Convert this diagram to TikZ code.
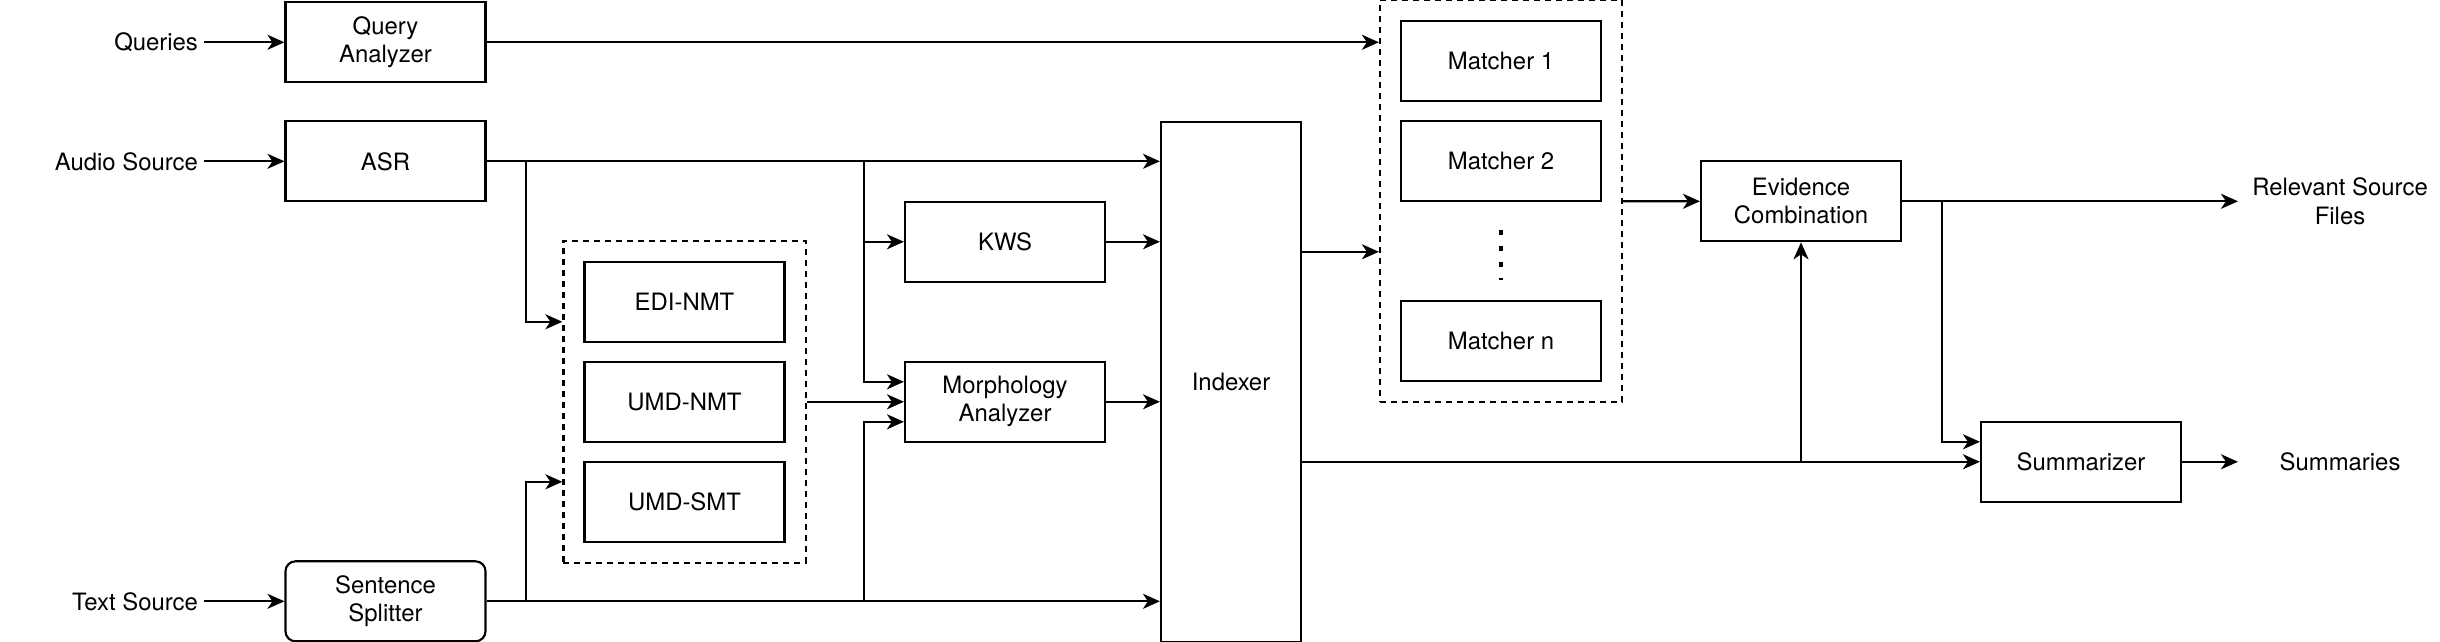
\documentclass[tikz,border=0pt]{standalone}
\usepackage{fontspec}
\setmainfont{TeX Gyre Heros}
\usetikzlibrary{arrows.meta,fit}

\begin{document}
\begin{tikzpicture}[node distance=1cm, line width=0.6pt,
    >={Stealth[length=0.17cm,width=0.15cm,inset=0.05cm]},
    every node/.style={font=\fontsize{6.8pt}{8pt}\selectfont},
    block/.style={draw, rectangle, minimum width=2cm, minimum height=0.8cm, align=center, inner sep=0pt},
    io/.style={inner sep=0.05cm, align=center},
    outlabel/.style={minimum width=2.02cm, inner sep=0pt, align=center},
    group/.style={draw, dash pattern=on 0.06cm off 0.05cm, inner sep=0.2cm}]
    \useasboundingbox (0,0.008) rectangle (24.4,-6.412);

    % Inputs
    \node[io, anchor=east] (queries) at (2.04,-0.415) {Queries};
    \node[io, anchor=east] (audio) at (2.04,-1.605) {Audio Source};
    \node[io, anchor=east] (text) at (2.04,-6.005) {Text Source};

    % Front end
    \node[block] (qa) at (3.855,-0.415) {Query\\Analyzer};
    \node[block] (asr) at (3.855,-1.605) {ASR};
    \node[block, rounded corners=0.1cm] (splitter) at (3.855,-6.005) {Sentence\\Splitter};

    % Translation systems
    \node[block] (edi) at (6.845,-3.01) {EDI-NMT};
    \node[block, below of=edi] (umdnmt) {UMD-NMT};
    \node[block, below of=umdnmt] (umdsmt) {UMD-SMT};
    \node[group, fit=(edi)(umdsmt)] (mt) {};

    % KWS and morphology
    \node[block] (kws) at (10.05,-2.41) {KWS};
    \node[block] (morph) at (10.05,-4.01) {Morphology\\Analyzer};
    \coordinate (tap) at ([xshift=-0.4cm]kws.west);

    % Indexer
    \node[draw, minimum width=1.4cm, minimum height=5.2cm, inner sep=0pt] (indexer) at (12.31,-3.81) {Indexer};

    % Matchers
    \node[block] (m1) at (15.01,-0.605) {Matcher 1};
    \node[block, below of=m1] (m2) {Matcher 2};
    \node[block, below of=m2, yshift=-0.8cm] (mn) {Matcher n};
    \node[group, fit=(m1)(mn)] (match) {};
    \draw[line width=0.045cm, dash pattern=on 0.045cm off 0.115cm] ([yshift=-0.28cm]m2.south) -- ([yshift=0.2cm]mn.north);

    % Combination and summaries
    \node[block] (evid) at (18.01,-2.005) {Evidence\\Combination};
    \node[block] (summ) at (20.81,-4.61) {Summarizer};
    \node[outlabel] (relevant) at (23.40,-2.005) {Relevant Source\\Files};
    \node[outlabel] (summaries) at (23.40,-4.61) {Summaries};

    % Arrows
    \draw[->] (queries) -- (qa);
    \draw[->] (audio) -- (asr);
    \draw[->] (text) -- (splitter);
    \draw[->] (qa) -- (qa -| match.west);
    \draw[->] (asr) -- (asr -| indexer.west);
    \draw[->] (splitter) -- (splitter -| indexer.west);
    \draw[->] ([xshift=0.39cm]asr.east) |- ([yshift=0.8cm]mt.west);
    \draw[->] ([xshift=0.39cm]splitter.east) |- ([yshift=-0.8cm]mt.west);
    \draw[->] (asr -| tap) |- ([yshift=0.2cm]morph.west);
    \draw[->] (tap) -- (kws);
    \draw[->] (splitter -| tap) |- ([yshift=-0.2cm]morph.west);
    \draw[->] (mt.east) -- (mt.east -| morph.west);
    \draw[->] (kws) -- (kws -| indexer.west);
    \draw[->] (morph) -- (morph -| indexer.west);
    \draw[->] ([yshift=1.3cm]indexer.east) -- ([yshift=1.3cm]indexer.east -| match.west);
    \draw[->] (match) -- (evid);
    \draw[->] (evid) -- (relevant);
    \draw[->] ([xshift=0.4cm]evid.east) |- ([yshift=0.2cm]summ.west);
    \draw[->] ([yshift=-0.8cm]indexer.east) -- (summ);
    \draw[->] (evid.south |- summ.west) -- (evid);
    \draw[->] (summ) -- (summaries);
\end{tikzpicture}
\end{document}
